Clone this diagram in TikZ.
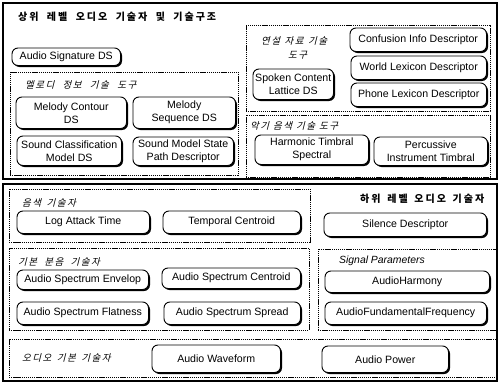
\documentclass[tikz,border=0pt]{standalone}
\usepackage{fontspec}
\setmainfont{Liberation Sans}
\newfontfamily\kr{Noto Sans CJK KR}
\newfontfamily\krit[FakeSlant=0.25]{Noto Sans CJK KR}
\usetikzlibrary{shadows}
\newlength\kgap \newlength\kwsp
\kgap=1.5pt \kwsp=5pt
\def\kspace#1{\kspaceA#1\relax}
\def\kspaceA#1{\ifx#1\relax\else\ifx#1~\hspace{\kwsp}\else#1\hspace{\kgap}\fi\expandafter\kspaceA\fi}
\tikzset{
  rb/.style={draw, line width=0.9pt, rounded corners=6pt, fill=white, inner sep=1pt,
    align=center, font=\fontsize{10.6}{13}\selectfont,
    drop shadow={shadow xshift=1.5pt, shadow yshift=-1.5pt, fill=black, opacity=1}},
  grp/.style={draw, line width=0.6pt, dash pattern=on 1.3pt off 0.8pt, inner sep=0pt},
  outer/.style={draw, line width=1.4pt, inner sep=0pt},
  krlab/.style={anchor=west, inner sep=0pt, font=\krit\fontsize{9.5}{12}\selectfont},
  enlab/.style={anchor=west, inner sep=0pt, font=\itshape\fontsize{10.4}{12}\selectfont},
  title/.style={anchor=west, inner sep=0pt, font=\kr\bfseries\fontsize{10}{12}\selectfont}
}
\newcommand\rbx[6]{\node[rb, minimum width={#4-#2-1.5}, minimum height={#5-#3-1.5}] (#1) at ({(#2+#4-1.5)/2},{(#3+#5-1.5)/2}) {#6};}
\newcommand\grx[6][grp]{\node[#1, minimum width={#5-#3}, minimum height={#6-#4}] (#2) at ({(#3+#5)/2},{(#4+#6)/2}) {};}
\begin{document}
\begin{tikzpicture}[x=1pt,y=-1pt]
\useasboundingbox[fill=white] (0,0) rectangle (499,383);
% outer frames
\grx[outer]{topframe}{3}{3}{497}{179}
\grx[outer]{botframe}{3}{184}{497}{381}
% groups
\grx{melody}{10}{72}{238}{175}
\grx{speech}{246}{25}{490}{111}
\grx{instr}{246}{115}{490}{177}
\grx{timbre}{9}{189}{310}{242}
\grx{basic}{9}{248}{309}{330}
\grx{sigp}{318}{249}{497}{330}
\grx{basicaudio}{9}{339}{497}{377}
% titles and labels
\node[title] (t1) at (18,17) {\kgap=2pt\kwsp=6.4pt\kspace{상위~레벨~오디오~기술자~및~기술구조}};
\node[title] (t2) at (360,199) {\kgap=2pt\kwsp=4.7pt\kspace{하위~레벨~오디오~기술자}};
\node[krlab] (lmel) at (25,85) {\kwsp=6.8pt\kspace{멜로디~정보~기술~도구}};
\node[krlab] (lsp) at (261,41) {\kwsp=3pt\kspace{연설~자료~기술}};
\node[krlab] (lsp2) at (288,55) {\kspace{도구}};
\node[krlab] (lins) at (250,126) {\kwsp=2.5pt\kspace{악기~음색~기술~도구}};
\node[krlab] (ltim) at (22,203) {\kwsp=4pt\kspace{음색~기술자}};
\node[krlab] (lbas) at (18,262) {\kwsp=5.7pt\kspace{기본~분음~기술자}};
\node[enlab] (lsig) at (339,261) {Signal Parameters};
\node[krlab] (lba) at (22,358) {\kwsp=4pt\kspace{오디오~기본~기술자}};
% boxes
\rbx{sig}{12}{48}{122}{67}{Audio Signature DS}
\rbx{mcont}{16}{97}{128}{130}{Melody Contour\\DS}
\rbx{mseq}{133}{97}{237}{130}{Melody\\Sequence DS}
\rbx{scm}{17}{136}{123}{167}{Sound Classification\\Model DS}
\rbx{smsp}{133}{137}{235}{167}{Sound Model State\\Path Descriptor}
\rbx{conf}{350}{28}{488}{53}{Confusion Info Descriptor}
\rbx{world}{351}{56}{488}{81}{World Lexicon Descriptor}
\rbx{phone}{351}{83}{488}{108}{Phone Lexicon Descriptor}
\rbx{spoken}{253}{69}{335}{101}{Spoken Content\\Lattice DS}
\rbx{harm}{255}{135}{370}{166}{Harmonic Timbral\\Spectral}
\rbx{perc}{374}{137}{489}{167}{Percussive\\Instrument Timbral}
\rbx{lat}{17}{211}{151}{235}{Log Attack Time}
\rbx{tc}{163}{211}{302}{235}{Temporal Centroid}
\rbx{sil}{324}{213}{488}{238}{Silence Descriptor}
\rbx{ase}{17}{270}{150}{291}{Audio Spectrum Envelop}
\rbx{asc}{162}{268}{302}{290}{Audio Spectrum Centroid}
\rbx{asf}{17}{302}{150}{326}{Audio Spectrum Flatness}
\rbx{ass}{164}{302}{302}{326}{Audio Spectrum Spread}
\rbx{ah}{325}{271}{491}{294}{AudioHarmony}
\rbx{aff}{325}{302}{488}{326}{AudioFundamentalFrequency}
\rbx{aw}{152}{345}{282}{374}{Audio Waveform}
\rbx{ap}{322}{346}{450}{374}{Audio Power}
\end{tikzpicture}
\end{document}
